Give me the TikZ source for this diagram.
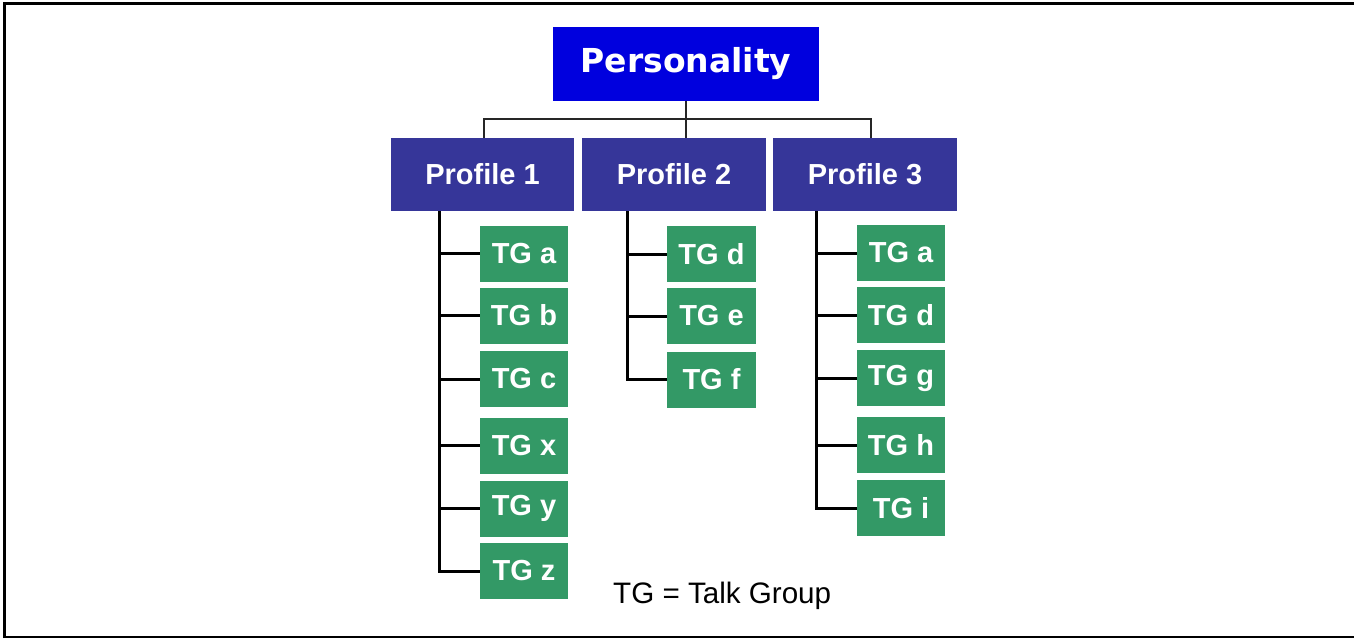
\documentclass[tikz,border=0pt]{standalone}
\usepackage{fontspec}
\setmainfont{Liberation Sans}
\newfontfamily\verd{DejaVu Sans}
\definecolor{persblue}{RGB}{0,0,222}
\definecolor{profblue}{RGB}{54,54,153}
\definecolor{tggreen}{RGB}{51,153,102}
\tikzset{
  persbox/.style={fill=persblue, text=white, inner sep=0pt, minimum width=266pt, minimum height=74pt, font=\verd\bfseries\fontsize{33}{36}\selectfont},
  profbox/.style={fill=profblue, text=white, inner sep=0pt, minimum width=184pt, minimum height=73pt, font=\bfseries\fontsize{29}{31}\selectfont},
  tgbox/.style={fill=tggreen, text=white, inner sep=0pt, minimum width=88pt, minimum height=56pt, font=\bfseries\fontsize{29}{31}\selectfont},
  tree/.style={line width=3pt, black},
  bus/.style={line width=2.4pt, black!85}
}
\begin{document}
\begin{tikzpicture}[x=1pt,y=-1pt]
\useasboundingbox (0,0) rectangle (1354,638);
\fill[white] (0,0) rectangle (1354,638);
% frame
\draw[line width=3pt] (4.5,638) -- (4.5,3.5) -- (1354,3.5);
\draw[line width=1.5pt] (3,636.8) -- (1354,636.8);

% top node
\node[persbox] (pers) at (686,64) {Personality};

% profiles
\node[profbox, minimum width=183pt] (p1) at (482.5,174.5) {Profile 1};
\node[profbox] (p2) at (674,174.5) {Profile 2};
\node[profbox] (p3) at (865,174.5) {Profile 3};

% bus
\draw[bus] (pers.south) -- (pers.south |- p2.north);
\draw[bus] ([xshift=1.5pt]p1.north) -- ++(0,-19) -| ([xshift=6pt]p3.north);

% column 1
\node[tgbox] (c1a) at (524,253.5) {TG a};
\node[tgbox] (c1b) at (524,315.5) {TG b};
\node[tgbox] (c1c) at (524,379) {TG c};
\node[tgbox] (c1x) at (524,445.5) {TG x};
\node[tgbox] (c1y) at (524,508.5) {TG y};
\node[tgbox] (c1z) at (524,571) {TG z};

% column 2
\node[tgbox, minimum width=89pt] (c2d) at (711.5,254) {TG d};
\node[tgbox, minimum width=89pt] (c2e) at (711.5,316) {TG e};
\node[tgbox, minimum width=89pt] (c2f) at (711.5,379.5) {TG f};

% column 3
\node[tgbox] (c3a) at (901,253) {TG a};
\node[tgbox] (c3d) at (901,315) {TG d};
\node[tgbox] (c3g) at (901,378) {TG g};
\node[tgbox] (c3h) at (901,445) {TG h};
\node[tgbox] (c3i) at (901,508) {TG i};

% trunks
\coordinate (t1) at ([xshift=-43.5pt]p1.south);
\coordinate (t2) at ([xshift=-47pt]p2.south);
\coordinate (t3) at ([xshift=-49pt]p3.south);

\draw[tree] (t1) |- (c1z.west);
\foreach \n in {c1a,c1b,c1c,c1x,c1y} \draw[tree] (t1 |- \n.west) -- (\n.west);
\draw[tree] (t2) |- (c2f.west);
\foreach \n in {c2d,c2e} \draw[tree] (t2 |- \n.west) -- (\n.west);
\draw[tree] (t3) |- (c3i.west);
\foreach \n in {c3a,c3d,c3g,c3h} \draw[tree] (t3 |- \n.west) -- (\n.west);

% legend
\node[anchor=base west, inner sep=0pt, font=\fontsize{29.6}{32}\selectfont] (legend) at (613,603) {TG = Talk Group};
\end{tikzpicture}
\end{document}
